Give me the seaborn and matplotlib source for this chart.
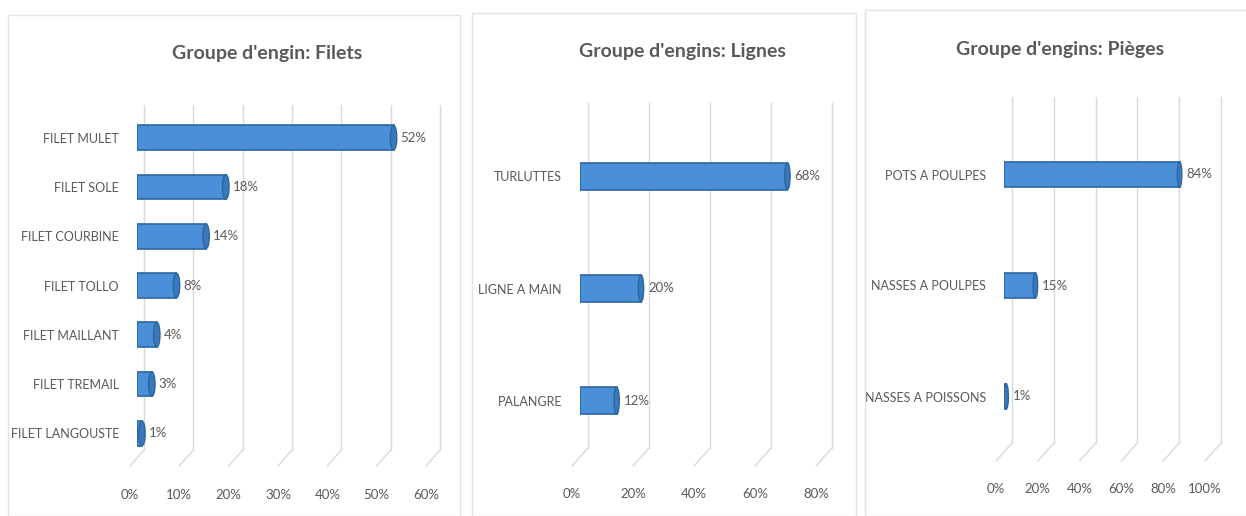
import seaborn as sns
import matplotlib.pyplot as plt
import matplotlib.transforms as mtransforms
from matplotlib.patches import Rectangle, Ellipse
import pandas as pd

# data
filets_labels = ['FILET MULET', 'FILET SOLE', 'FILET COURBINE', 'FILET TOLLO',
                 'FILET MAILLANT', 'FILET TREMAIL', 'FILET LANGOUSTE']
filets_values = [0.52, 0.18, 0.14, 0.08, 0.04, 0.03, 0.01]

lignes_labels = ['TURLUTTES', 'LIGNE A MAIN', 'PALANGRE']
lignes_values = [0.68, 0.20, 0.12]

pieges_labels = ['POTS A POULPES', 'NASSES A POULPES', 'NASSES A POISSONS']
pieges_values = [0.84, 0.15, 0.01]

titles = ["Groupe d'engin: Filets", "Groupe d'engins: Lignes", "Groupe d'engins: Pièges"]
x_ticks = [[0, 0.1, 0.2, 0.3, 0.4, 0.5, 0.6],
           [0, 0.2, 0.4, 0.6, 0.8],
           [0, 0.2, 0.4, 0.6, 0.8, 1.0]]

sns.set_theme(style='white')
plt.rcParams['font.family'] = ['Lato', 'DejaVu Sans']

W, H = 1246, 516
fig = plt.figure(figsize=(W / 100, H / 100), dpi=100)

grey_txt = '#595959'
grid_col = '#D9D9D9'
bar_col = '#4A8FD8'
edge_col = '#2C679F'

# pixel layout of each panel: axes box, border, title, depth offset, gridline top
panels = [
    dict(ax=(137, 433, 113, 458), box=(8, 460, 15), title=(267, 53), depth=(7, 8), gtop=105, bw=0.5),
    dict(ax=(580, 824, 120, 457), box=(472, 856, 13), title=(682, 52), depth=(8, 9), gtop=103, bw=0.24),
    dict(ax=(1004, 1213, 119, 452), box=(865, 1250, 10), title=(1060, 50), depth=(8, 9), gtop=97, bw=0.23),
]
series = [(filets_labels, filets_values), (lignes_labels, lignes_values), (pieges_labels, pieges_values)]


def px_offset(dx, dy):
    return mtransforms.ScaledTranslation(dx / 100, dy / 100, fig.dpi_scale_trans)


for p, (labels, values), title, ticks in zip(panels, series, titles, x_ticks):
    l, r, t, b = p['ax']
    # panel frame
    bl, br, bt = p['box']
    fig.patches.append(Rectangle((bl / W, 0), (br - bl) / W, 1 - bt / H, transform=fig.transFigure,
                                 fill=False, edgecolor='#E3E3E3', linewidth=1))
    fig.text(p['title'][0] / W, 1 - p['title'][1] / H, title, ha='center', va='center',
             fontsize=14, fontweight='bold', color=grey_txt)

    ax = fig.add_axes([l / W, 1 - b / H, (r - l) / W, (b - t) / H])
    df = pd.DataFrame({'engin': labels, 'part': values})
    sns.barplot(data=df, x='part', y='engin', orient='h', ax=ax, color=bar_col,
                edgecolor=edge_col, linewidth=1.2, width=p['bw'], saturation=1)
    ax.set_xlabel('')
    ax.set_ylabel('')
    for s in ax.spines.values():
        s.set_visible(False)

    # rounded cylinder ends
    for patch in list(ax.patches):
        x1 = patch.get_x() + patch.get_width()
        yc = patch.get_y() + patch.get_height() / 2
        ax.add_patch(Ellipse((x1, yc), width=ticks[-1] * 0.022, height=patch.get_height(),
                             facecolor='#3A78BD', edgecolor=edge_col, lw=1, zorder=3))

    ax.bar_label(ax.containers[0], labels=[f'{v:.0%}' for v in values], padding=5,
                 fontsize=9.5, color=grey_txt)

    ax.set_xlim(0, ticks[-1])
    ax.set_ylim(len(labels) - 0.5, -0.5)

    # 3d-ish walls: gridlines on the back plane and diagonal floor lines
    dx, dy = p['depth']
    base = mtransforms.blended_transform_factory(ax.transData, ax.transAxes)
    top_frac = (b - dy - p['gtop']) / (b - t)
    for tk in ticks:
        ax.plot([tk, tk], [0, top_frac], transform=base + px_offset(dx, dy),
                color=grid_col, lw=1, zorder=0, clip_on=False, scalex=False, scaley=False)
        ax.annotate('', xy=(tk, 0), xycoords=base + px_offset(dx, dy),
                    xytext=(tk, 0), textcoords=base + px_offset(-dx, -dy),
                    arrowprops=dict(arrowstyle='-', color=grid_col, lw=1, shrinkA=0, shrinkB=0),
                    annotation_clip=False)

    ax.set_xticks(ticks)
    ax.set_xticklabels([f'{tk:.0%}' for tk in ticks])
    ax.tick_params(axis='x', length=0, pad=22, labelsize=9.5, labelcolor=grey_txt)
    ax.tick_params(axis='y', length=0, pad=13, labelsize=9, labelcolor=grey_txt)
    for lab in ax.get_xticklabels():
        lab.set_transform(lab.get_transform() + px_offset(-dx, 0))
    ax.grid(False)

fig.savefig('out.png', dpi=100, facecolor='white')
